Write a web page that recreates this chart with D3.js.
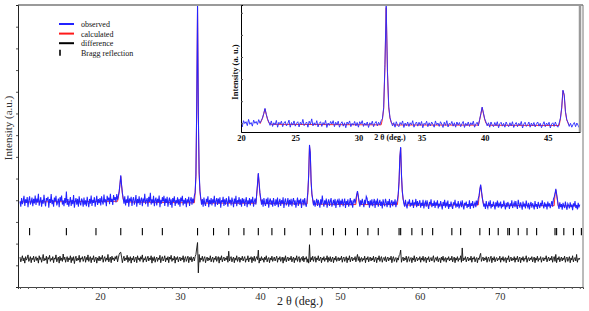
<!DOCTYPE html>
<html><head><meta charset="utf-8">
<script src="https://cdn.jsdelivr.net/npm/d3@7"></script>
<style>body{margin:0;background:#fff}svg{display:block}</style>
</head><body>
<svg id="c" width="589" height="311"></svg>
<script>
// ---------------- DATA ----------------
const obsStart = 10, obsStep = 0.1; // 2θ sampling of observed / difference
const observed = [
-0.05,-0.3,0.1,-0.18,-0.02,0.2,-0.26,0.04,-0.12,0.15,-0.32,0.0,0.18,-0.2,-0.08,0.12,-0.28,0.06,-0.15,0.22,
-0.22,0.08,-0.1,0.3,-0.25,-0.04,0.14,-0.3,0.02,-0.16,0.25,-0.08,-0.28,0.1,-0.02,0.16,-0.34,0.05,-0.12,0.28,
-0.18,0.02,-0.3,0.12,-0.06,0.2,-0.24,-0.1,0.08,-0.32,0.14,-0.04,0.22,-0.2,0.0,-0.28,0.1,-0.14,0.4,-0.22,
0.05,-0.3,-0.08,0.15,-0.26,0.02,-0.18,0.24,-0.34,-0.06,0.1,-0.2,0.06,-0.3,0.18,-0.12,-0.24,0.08,-0.02,-0.3,
0.12,-0.2,0.0,-0.28,0.16,-0.1,-0.32,0.06,-0.16,0.22,-0.26,0.02,-0.12,0.14,-0.3,-0.04,0.2,-0.22,0.05,-0.14,
0.1,-0.24,0.18,-0.06,-0.2,0.26,-0.1,0.04,-0.28,0.2,-0.02,0.12,-0.18,0.3,-0.08,0.06,-0.22,0.24,0.0,0.14,
-0.1,0.28,0.02,0.2,0.4,0.75,1.15,0.7,0.35,0.1,-0.16,0.18,-0.24,0.04,-0.12,0.22,-0.3,0.08,-0.06,0.16,
-0.26,0.02,0.14,-0.2,-0.04,0.24,-0.3,0.06,-0.14,0.18,-0.22,0.0,0.12,-0.28,0.08,-0.1,0.3,-0.18,-0.02,0.1,
-0.3,0.16,-0.08,0.34,-0.2,0.04,-0.14,0.2,-0.28,0.0,0.12,-0.24,0.06,-0.1,0.22,-0.32,0.02,-0.16,0.14,-0.06,
0.2,-0.26,0.08,-0.12,0.16,-0.3,-0.02,0.12,-0.22,0.04,-0.34,0.1,-0.08,0.18,-0.26,0.0,-0.14,0.14,-0.2,0.06,
-0.3,0.12,-0.06,0.2,-0.24,0.02,-0.16,0.1,-0.32,0.04,-0.1,0.16,-0.26,0.0,0.14,-0.2,0.08,-0.12,0.2,0.35,
1.2,4.5,9.1,4.0,1.3,0.45,0.1,-0.2,0.05,-0.3,0.12,-0.14,-0.26,0.06,-0.1,0.18,-0.32,0.02,-0.18,0.1,
-0.24,0.04,-0.12,0.2,-0.3,-0.04,0.1,-0.22,0.08,-0.16,0.14,-0.34,0.0,-0.1,0.16,-0.26,0.04,-0.2,0.1,-0.08,
-0.3,0.18,-0.12,0.02,-0.24,0.12,-0.06,-0.32,0.08,-0.16,0.2,-0.28,0.0,-0.1,0.14,-0.22,0.04,-0.3,0.1,-0.14,
0.06,-0.26,-0.04,0.14,-0.32,0.0,-0.18,0.1,-0.24,0.04,-0.12,0.16,-0.3,-0.06,0.08,-0.2,0.3,0.75,1.25,0.8,
0.35,0.1,-0.2,0.04,-0.3,0.1,-0.14,-0.26,0.06,-0.18,0.12,-0.34,-0.04,0.08,-0.22,0.0,-0.3,0.1,-0.12,-0.26,
0.04,-0.2,0.12,-0.32,-0.08,0.06,-0.26,0.0,-0.16,0.14,-0.36,-0.06,0.08,-0.24,-0.12,0.1,-0.3,0.02,-0.2,0.06,
-0.28,-0.04,0.1,-0.22,0.0,-0.34,-0.1,0.12,-0.26,0.02,-0.16,0.08,-0.36,-0.06,0.04,-0.24,0.1,-0.18,-0.3,0.02,
0.4,1.2,2.55,2.2,0.9,0.3,0.05,-0.24,0.0,-0.3,-0.1,0.06,-0.26,0.02,-0.16,-0.34,0.04,-0.2,0.22,-0.12,
-0.3,0.0,-0.18,0.08,-0.34,-0.1,0.04,-0.26,-0.06,0.1,-0.3,-0.14,0.02,-0.24,0.06,-0.36,-0.08,0.0,-0.22,0.08,
-0.32,-0.02,-0.18,0.06,-0.28,-0.1,0.08,-0.36,-0.04,-0.2,0.04,-0.3,-0.12,0.1,-0.24,0.0,-0.34,-0.06,0.06,-0.16,
0.05,0.25,0.42,0.2,-0.08,-0.3,0.0,-0.22,0.06,-0.14,-0.32,0.02,-0.18,0.18,0.1,-0.2,-0.04,-0.34,0.0,-0.24,
0.04,-0.28,-0.1,0.06,-0.36,-0.02,-0.2,0.08,-0.3,-0.12,0.02,-0.26,-0.06,-0.38,0.04,-0.16,-0.28,0.06,-0.1,-0.32,
-0.04,-0.22,0.06,-0.34,-0.12,0.0,-0.28,-0.06,-0.2,0.04,-0.32,-0.1,0.02,0.3,0.9,2.0,2.45,1.2,0.45,0.1,
-0.16,-0.3,0.02,-0.22,-0.38,-0.06,-0.18,0.04,-0.3,-0.12,-0.24,0.02,-0.36,-0.1,-0.2,0.06,-0.32,-0.04,-0.26,-0.14,
0.0,-0.34,-0.12,-0.26,0.02,-0.38,-0.16,-0.06,-0.3,0.0,-0.22,-0.4,-0.08,-0.2,0.04,-0.32,-0.14,-0.26,-0.02,-0.36,
-0.1,-0.24,0.0,-0.38,-0.16,-0.3,-0.04,-0.22,-0.42,-0.08,-0.26,0.02,-0.34,-0.14,-0.24,-0.02,-0.4,-0.18,-0.3,-0.06,
-0.28,-0.4,-0.1,-0.22,0.02,-0.34,-0.16,-0.3,-0.04,-0.38,-0.2,-0.1,-0.32,0.0,-0.26,-0.42,-0.12,-0.24,-0.06,-0.36,
-0.18,-0.3,0.0,-0.4,-0.14,-0.26,-0.04,-0.36,-0.2,-0.1,-0.32,-0.02,-0.22,0.08,0.2,0.5,0.72,0.45,0.15,-0.1,
-0.3,-0.16,-0.4,-0.04,-0.26,-0.36,-0.12,-0.22,0.0,-0.38,-0.18,-0.3,-0.06,-0.24,-0.42,-0.1,-0.28,-0.02,-0.34,-0.16,
-0.26,-0.06,-0.38,-0.18,-0.3,-0.02,-0.24,-0.42,-0.12,-0.32,-0.08,-0.2,-0.4,-0.14,-0.28,0.0,-0.36,-0.2,-0.1,-0.32,
-0.04,-0.26,-0.4,0.02,-0.18,-0.34,-0.1,-0.24,-0.44,-0.06,-0.3,-0.16,-0.38,-0.02,-0.22,-0.32,-0.12,-0.42,-0.2,-0.08,
-0.34,-0.14,-0.26,-0.42,-0.04,-0.3,-0.18,-0.4,-0.08,-0.24,-0.36,-0.12,-0.28,0.0,-0.22,-0.38,-0.1,-0.3,-0.16,-0.42,
-0.06,-0.28,-0.14,-0.36,-0.2,-0.04,-0.3,0.05,0.15,0.3,0.52,0.3,0.04,-0.24,-0.4,-0.1,-0.32,-0.18,-0.44,-0.12,
-0.26,-0.36,-0.06,-0.3,-0.44,-0.16,-0.24,-0.38,-0.1,-0.32,-0.2,-0.46,-0.14,-0.28,-0.04,-0.36,-0.22,-0.42,-0.12,-0.3,
-0.2];
const difference = [
-2.62,-2.84,-2.7,-2.56,-2.8,-2.66,-2.9,-2.6,-2.76,-2.68,-2.52,-2.82,-2.72,-2.6,-2.88,-2.66,-2.74,-2.58,-2.84,-2.7,
-2.6,-2.78,-2.66,-2.9,-2.56,-2.74,-2.64,-2.86,-2.7,-2.5,-2.8,-2.68,-2.76,-2.58,-2.92,-2.64,-2.72,-2.54,-2.82,-2.68,
-2.76,-2.6,-2.88,-2.66,-2.72,-2.52,-2.84,-2.7,-2.62,-2.9,-2.58,-2.78,-2.66,-2.82,-2.48,-2.74,-2.62,-2.86,-2.7,-2.6,
-2.84,-2.66,-2.74,-2.56,-2.88,-2.64,-2.78,-2.6,-2.92,-2.7,-2.58,-2.8,-2.68,-2.76,-2.54,-2.86,-2.66,-2.72,-2.6,-2.82,
-2.7,-2.58,-2.86,-2.64,-2.76,-2.52,-2.82,-2.68,-2.6,-2.88,-2.66,-2.74,-2.56,-2.84,-2.7,-2.62,-2.9,-2.66,-2.78,-2.58,
-2.8,-2.64,-2.72,-2.54,-2.86,-2.68,-2.6,-2.82,-2.66,-2.76,-2.5,-2.84,-2.7,-2.62,-2.88,-2.58,-2.74,-2.66,-2.8,-2.6,
-2.72,-2.56,-2.84,-2.66,-2.5,-2.42,-2.4,-2.62,-2.88,-2.7,-2.58,-2.8,-2.66,-2.74,-2.54,-2.86,-2.64,-2.78,-2.6,-2.9,
-2.66,-2.76,-2.58,-2.84,-2.7,-2.62,-2.88,-2.56,-2.74,-2.66,-2.82,-2.6,-2.72,-2.52,-2.86,-2.68,-2.76,-2.6,-2.84,-2.7,
-2.58,-2.8,-2.66,-2.74,-2.56,-2.9,-2.64,-2.78,-2.6,-2.86,-2.7,-2.62,-2.82,-2.66,-2.74,-2.54,-2.88,-2.68,-2.6,-2.8,
-2.7,-2.56,-2.84,-2.66,-2.76,-2.6,-2.88,-2.62,-2.72,-2.54,-2.82,-2.68,-2.76,-2.58,-2.9,-2.64,-2.74,-2.6,-2.84,-2.7,
-2.62,-2.8,-2.66,-2.74,-2.56,-2.86,-2.68,-2.6,-2.82,-2.7,-2.58,-2.88,-2.64,-2.76,-2.6,-2.84,-2.7,-2.62,-2.8,-2.6,
-2.5,-2.2,-1.95,-3.35,-2.5,-2.86,-2.66,-2.74,-2.58,-2.82,-2.68,-2.6,-2.88,-2.7,-2.62,-2.8,-2.66,-2.76,-2.56,-2.84,
-2.7,-2.62,-2.86,-2.66,-2.74,-2.58,-2.82,-2.68,-2.6,-2.9,-2.64,-2.76,-2.56,-2.84,-2.7,-2.62,-2.8,-2.66,-2.74,-2.58,
-2.86,-2.35,-2.8,-2.68,-2.6,-2.84,-2.7,-2.62,-2.88,-2.66,-2.76,-2.56,-2.82,-2.7,-2.62,-2.86,-2.66,-2.74,-2.58,-2.8,
-2.68,-2.6,-2.86,-2.7,-2.76,-2.56,-2.84,-2.66,-2.72,-2.6,-2.88,-2.64,-2.78,-2.58,-2.82,-2.68,-2.6,-2.74,-2.3,-2.9,
-2.66,-2.8,-2.6,-2.76,-2.68,-2.86,-2.62,-2.74,-2.56,-2.84,-2.7,-2.64,-2.88,-2.66,-2.76,-2.58,-2.82,-2.7,-2.62,-2.8,
-2.68,-2.58,-2.86,-2.66,-2.74,-2.6,-2.82,-2.7,-2.62,-2.9,-2.64,-2.78,-2.56,-2.84,-2.7,-2.62,-2.8,-2.66,-2.74,-2.58,
-2.84,-2.7,-2.62,-2.88,-2.66,-2.76,-2.56,-2.82,-2.68,-2.6,-2.86,-2.7,-2.64,-2.78,-2.58,-2.84,-2.66,-2.72,-2.6,-2.86,
-2.7,-2.9,-2.05,-2.84,-2.64,-2.76,-2.58,-2.82,-2.68,-2.6,-2.86,-2.66,-2.74,-2.56,-2.8,-2.7,-2.62,-2.88,-2.66,-2.76,
-2.6,-2.82,-2.68,-2.74,-2.56,-2.86,-2.64,-2.78,-2.6,-2.84,-2.7,-2.62,-2.88,-2.66,-2.76,-2.58,-2.82,-2.7,-2.64,-2.8,
-2.66,-2.74,-2.58,-2.86,-2.68,-2.62,-2.82,-2.7,-2.6,-2.88,-2.66,-2.76,-2.56,-2.84,-2.7,-2.62,-2.8,-2.68,-2.74,-2.6,
-2.84,-2.66,-2.5,-2.78,-2.6,-2.86,-2.7,-2.64,-2.82,-2.68,-2.76,-2.58,-2.88,-2.66,-2.74,-2.6,-2.84,-2.7,-2.62,-2.8,
-2.66,-2.76,-2.58,-2.84,-2.7,-2.62,-2.88,-2.66,-2.74,-2.56,-2.82,-2.68,-2.6,-2.86,-2.7,-2.64,-2.78,-2.6,-2.84,-2.7,
-2.62,-2.8,-2.66,-2.74,-2.58,-2.88,-2.68,-2.6,-2.82,-2.7,-2.64,-2.86,-2.66,-2.76,-2.56,-2.5,-2.3,-2.86,-2.7,-2.62,
-2.8,-2.66,-2.74,-2.58,-2.86,-2.68,-2.6,-2.82,-2.7,-2.64,-2.88,-2.66,-2.76,-2.56,-2.84,-2.7,-2.62,-2.8,-2.68,-2.74,
-2.6,-2.86,-2.66,-2.76,-2.58,-2.82,-2.7,-2.62,-2.88,-2.66,-2.74,-2.6,-2.84,-2.7,-2.64,-2.8,-2.68,-2.56,-2.86,-2.72,
-2.64,-2.78,-2.6,-2.84,-2.7,-2.66,-2.88,-2.62,-2.76,-2.58,-2.82,-2.7,-2.64,-2.86,-2.66,-2.74,-2.6,-2.8,-2.68,-2.76,
-2.58,-2.84,-2.7,-2.62,-2.88,-2.66,-2.76,-2.6,-2.82,-2.68,-2.74,-2.56,-2.86,-2.2,-2.8,-2.66,-2.74,-2.6,-2.84,-2.7,
-2.62,-2.8,-2.68,-2.76,-2.58,-2.86,-2.66,-2.72,-2.6,-2.84,-2.7,-2.64,-2.88,-2.66,-2.74,-2.56,-2.45,-2.82,-2.7,-2.62,
-2.8,-2.66,-2.74,-2.6,-2.86,-2.68,-2.62,-2.82,-2.7,-2.58,-2.88,-2.66,-2.76,-2.6,-2.84,-2.7,-2.64,-2.8,-2.68,-2.74,
-2.58,-2.86,-2.66,-2.76,-2.6,-2.82,-2.7,-2.64,-2.88,-2.66,-2.74,-2.56,-2.84,-2.7,-2.62,-2.8,-2.68,-2.76,-2.6,-2.86,
-2.66,-2.74,-2.58,-2.84,-2.7,-2.62,-2.88,-2.66,-2.76,-2.6,-2.82,-2.68,-2.72,-2.56,-2.86,-2.7,-2.64,-2.8,-2.66,-2.74,
-2.6,-2.84,-2.7,-2.62,-2.88,-2.66,-2.76,-2.58,-2.82,-2.68,-2.74,-2.6,-2.86,-2.7,-2.64,-2.8,-2.66,-2.72,-2.56,-2.84,
-2.7,-2.62,-2.8,-2.66,-2.76,-2.58,-2.86,-2.68,-2.6,-2.82,-2.5,-2.88,-2.66,-2.74,-2.6,-2.84,-2.7,-2.62,-2.8,-2.66,
-2.74,-2.58,-2.86,-2.68,-2.62,-2.82,-2.7,-2.6,-2.88,-2.66,-2.76,-2.56,-2.84,-2.7,-2.64,-2.8,-2.5,-2.86,-2.68,-2.74,
-2.66];
const calcTheta = [10,22.2,22.3,22.4,22.5,22.6,22.7,22.8,22.9,23.1,31.8,31.9,32.0,32.1,32.2,32.3,32.4,32.5,32.6,32.8,39.5,39.6,39.7,39.8,39.9,40.0,40.1,40.3,45.9,46.0,46.1,46.2,46.3,46.4,46.5,46.7,52.0,52.1,52.2,52.3,52.5,57.2,57.3,57.4,57.5,57.6,57.7,57.8,57.9,58.1,67.3,67.4,67.5,67.6,67.7,67.8,68.0,76.8,76.9,77.0,77.1,77.3,80];
const calcValue = [-0.08,-0.05,0.15,0.38,0.72,1.1,0.68,0.3,0.05,-0.08,-0.12,0.3,1.1,4.3,8.9,3.9,1.2,0.4,0.05,-0.13,-0.14,0.25,0.7,1.2,0.75,0.3,0.0,-0.15,-0.17,0.35,1.15,2.5,2.15,0.85,0.25,-0.18,-0.2,0.2,0.38,0.15,-0.2,-0.2,0.25,0.85,1.95,2.4,1.15,0.4,0.05,-0.22,-0.22,0.15,0.45,0.68,0.4,0.1,-0.24,-0.25,0.25,0.48,0.25,-0.26,-0.26];
const braggPos = [11.2,15.8,19.5,22.6,25.3,27.8,32.2,34.2,36.1,38.0,39.8,41.5,43.1,46.3,47.8,49.2,50.7,52.2,53.5,54.8,57.4,57.6,59.0,60.3,61.6,64.0,65.1,67.5,68.7,69.8,71.0,71.2,72.3,73.4,74.6,76.9,77.1,78.0,79.2,80.2];
const xTickLabels = [20,30,40,50,60,70];
const xMinorTicks = d3.range(10,81,1);
const yTicks = [-3,-2,-1,0,1,2,3,4,5,6,7,8];
const insetXTicks = [20,25,30,35,40,45];
const insetYTicks = [0,1.7,3.4,5.1,6.8,8.5];
const legendItems = [
  {label:"observed", kind:"line", color:"#2323ff"},
  {label:"calculated", kind:"line", color:"#ff1a1a"},
  {label:"difference", kind:"line", color:"#000"},
  {label:"Bragg reflection", kind:"tick", color:"#000"}
];

// ---------------- DRAW ----------------
const svg = d3.select("#c");
const serif = "'Liberation Serif','Times New Roman',serif";
const pts = observed.map((v,i)=>({t:+(obsStart+i*obsStep).toFixed(2), v}));
const dpts = difference.map((v,i)=>({t:+(obsStart+i*obsStep).toFixed(2), v}));
const cpts = calcTheta.map((t,i)=>({t, v:calcValue[i]}));

const L=18, R=583, T=5, B=287;
const x = d3.scaleLinear().domain([9.75,80.4]).range([L,R]);
const y = d3.scaleLinear().domain([-4,9]).range([B,T]);

const defs = svg.append("defs");
defs.append("clipPath").attr("id","mc").append("rect")
  .attr("x",L).attr("y",T).attr("width",R-L).attr("height",B-T);

const main = svg.append("g").attr("clip-path","url(#mc)");
const line = d3.line().x(d=>x(d.t)).y(d=>y(d.v));
main.append("path").datum(cpts).attr("d",line).attr("fill","none").attr("stroke","#ff1a1a").attr("stroke-width",0.9);
main.append("path").datum(pts).attr("d",line).attr("fill","none").attr("stroke","#2323ff").attr("stroke-width",1.05);
main.append("path").datum(dpts).attr("d",line).attr("fill","none").attr("stroke","#111").attr("stroke-width",0.9);
main.selectAll(".bragg").data(braggPos).enter().append("line")
  .attr("x1",d=>x(d)).attr("x2",d=>x(d)).attr("y1",y(-1.28)).attr("y2",y(-1.62))
  .attr("stroke","#000").attr("stroke-width",1.1);

// main frame
svg.append("line").attr("x1",L).attr("x2",R).attr("y1",T).attr("y2",T).attr("stroke","#9a9a9a").attr("stroke-width",2);
svg.append("line").attr("x1",R).attr("x2",R).attr("y1",T).attr("y2",B).attr("stroke","#777").attr("stroke-width",1);

// axes
const ax = svg.append("g").attr("transform",`translate(0,${B})`)
  .call(d3.axisBottom(x).tickValues(xMinorTicks).tickFormat("").tickSize(2));
ax.select(".domain").attr("stroke","#444");
ax.selectAll(".tick line").attr("stroke","#555");
const ax2 = svg.append("g").attr("transform",`translate(0,${B})`)
  .call(d3.axisBottom(x).tickValues(xTickLabels).tickSize(2).tickPadding(4));
ax2.select(".domain").remove();
ax2.selectAll("text").attr("font-family",serif).attr("font-size",10.5).attr("fill","#333");
ax2.selectAll(".tick line").attr("stroke","#555");
const ay = svg.append("g").attr("transform",`translate(${L},0)`)
  .call(d3.axisLeft(y).tickValues(yTicks).tickFormat("").tickSize(2));
ay.select(".domain").attr("stroke","#222");
ay.selectAll(".tick line").attr("stroke","#555");

svg.append("text").attr("x",300).attr("y",305).attr("text-anchor","middle")
  .attr("font-family",serif).attr("font-size",12).attr("fill","#222").text("2 θ (deg.)");
svg.append("text").attr("transform","translate(12,128) rotate(-90)").attr("text-anchor","middle")
  .attr("font-family",serif).attr("font-size",11).attr("fill","#333").text("Intensity (a.u.)");

// legend
const lg = svg.append("g").attr("transform","translate(59,24)");
legendItems.forEach((it,i)=>{
  const gy = i*9.6;
  if(it.kind==="line"){
    lg.append("line").attr("x1",0).attr("x2",15).attr("y1",gy).attr("y2",gy).attr("stroke",it.color).attr("stroke-width",2);
  } else {
    lg.append("line").attr("x1",1).attr("x2",1).attr("y1",gy-3).attr("y2",gy+3).attr("stroke",it.color).attr("stroke-width",1.6);
  }
  lg.append("text").attr("x",22).attr("y",gy+3).attr("font-family",serif).attr("font-size",8).attr("fill","#111").text(it.label);
});

// ---------------- INSET ----------------
const iL=241, iR=580, iT=5, iB=132;
const ix = d3.scaleLinear().domain([20.7,47.55]).range([iL,iR]).clamp(true);
const iy = d3.scaleLinear().domain([-0.67,9.1]).range([iB,iT]);
svg.append("rect").attr("x",iL).attr("y",iT).attr("width",iR-iL).attr("height",iB-iT).attr("fill","#fff");
defs.append("clipPath").attr("id","ic").append("rect")
  .attr("x",iL).attr("y",iT).attr("width",iR-iL).attr("height",iB-iT);
const ig = svg.append("g").attr("clip-path","url(#ic)");
const iline = d3.line().x(d=>ix(d.t)).y(d=>iy(d.v));
const inRange = d=>d.t>=20.5 && d.t<=47.8;
ig.append("path").datum(cpts.filter(inRange)).attr("d",iline).attr("fill","none").attr("stroke","#ff1a1a").attr("stroke-width",0.9);
ig.append("path").datum(pts.filter(inRange)).attr("d",iline).attr("fill","none").attr("stroke","#2b2bff").attr("stroke-width",1).attr("stroke-opacity",0.92);

svg.append("line").attr("x1",iL).attr("x2",iR).attr("y1",iT).attr("y2",iT).attr("stroke","#9a9a9a").attr("stroke-width",2);
svg.append("line").attr("x1",iR).attr("x2",iR).attr("y1",iT).attr("y2",iB).attr("stroke","#9a9a9a").attr("stroke-width",2.5);
const iax = svg.append("g").attr("transform",`translate(0,${iB})`)
  .call(d3.axisBottom(ix).tickValues(insetXTicks).tickSize(0).tickPadding(3));
iax.select(".domain").attr("stroke","#000");
iax.selectAll("text").attr("font-family",serif).attr("font-size",8.5).attr("font-weight","bold").attr("fill","#111");
const iay = svg.append("g").attr("transform",`translate(${iL},0)`)
  .call(d3.axisRight(iy).tickValues(insetYTicks).tickFormat("").tickSize(2));
iay.select(".domain").attr("stroke","#000");
iay.selectAll(".tick line").attr("stroke","#555");

svg.append("text").attr("x",390).attr("y",140).attr("text-anchor","middle")
  .attr("font-family",serif).attr("font-size",8).attr("font-weight","bold").attr("fill","#111").text("2 θ (deg.)");
svg.append("text").attr("transform","translate(237.5,72) rotate(-90)").attr("text-anchor","middle")
  .attr("font-family",serif).attr("font-size",8.5).attr("font-weight","bold").attr("fill","#111").text("Intensity (a. u.)");
</script>
</body></html>
